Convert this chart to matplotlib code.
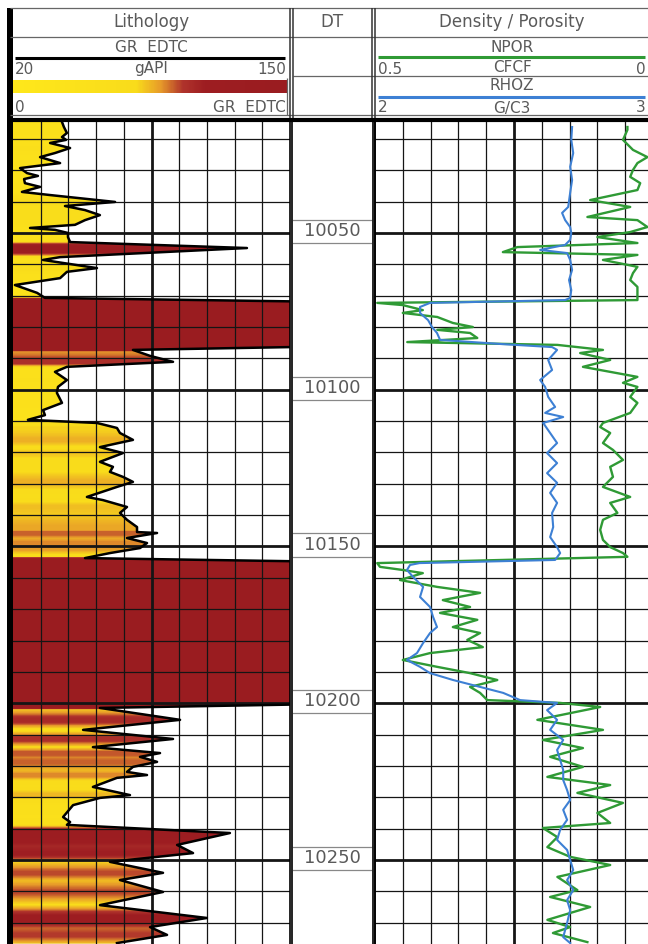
"""Composite well log: GR lithology track, depth track and density/porosity track."""

import matplotlib

matplotlib.use("Agg")

import matplotlib.pyplot as plt
import numpy as np
from matplotlib.colors import LinearSegmentedColormap, Normalize
from matplotlib.patches import Polygon, Rectangle
from numpy.lib.stride_tricks import sliding_window_view

W, H, DPI = 648, 944, 100

DEPTH_TOP = 10014.6
DEPTH_BOT = 10276.8
DEPTH_LABELS = [10050, 10100, 10150, 10200, 10250]

GR_MIN, GR_MAX = 20, 150
NPOR_LEFT, NPOR_RIGHT = 0.5, 0.0
RHOZ_LEFT, RHOZ_RIGHT = 2.0, 3.0

# Gamma ray (gAPI); 170 marks off-scale readings
GR_DEPTH = [
    10014.6, 10016.2, 10018.1, 10019.4, 10020.3, 10021.3, 10022.9, 10024.5,
    10025.8, 10027.7, 10029.3, 10030.9, 10031.8, 10032.8, 10034.1, 10035.3,
    10036.9, 10037.9, 10040.1, 10041.4, 10042.7, 10044.3, 10045.9, 10047.4,
    10048.4, 10049.0, 10050.0, 10051.3, 10052.9, 10054.8, 10057.7, 10058.6,
    10061.2, 10062.4, 10064.4, 10066.6, 10069.1, 10070.7, 10072.0, 10086.0,
    10086.4, 10087.3, 10089.2, 10091.1, 10092.7, 10094.3, 10096.9, 10099.1,
    10101.0, 10104.2, 10106.5, 10108.1, 10109.6, 10110.6, 10112.2, 10113.8,
    10116.0, 10118.3, 10120.2, 10123.0, 10124.6, 10126.2, 10127.8, 10129.4,
    10131.0, 10134.2, 10135.2, 10137.4, 10139.3, 10141.5, 10143.8, 10145.4,
    10145.7, 10147.3, 10148.9, 10150.5, 10152.1, 10153.7, 10154.9, 10200.2,
    10201.5, 10205.3, 10208.5, 10211.4, 10214.0, 10215.9, 10217.1, 10218.7,
    10220.3, 10221.9, 10222.9, 10223.8, 10226.7, 10229.3, 10230.2, 10232.5,
    10236.3, 10237.9, 10238.8, 10241.4, 10245.2, 10247.8, 10250.6, 10254.1,
    10256.4, 10260.2, 10264.4, 10268.5, 10271.4, 10273.9, 10276.5,
]
GR_API = [
    43.0, 43.9, 45.3, 43.0, 44.9, 37.4, 46.8, 39.7,
    32.7, 42.1, 23.3, 26.6, 31.7, 25.2, 25.6, 32.7,
    24.2, 37.4, 67.9, 44.4, 53.8, 60.8, 53.8, 49.1,
    28.0, 39.7, 45.8, 45.8, 46.8, 129.8, 42.1, 34.1,
    59.4, 45.3, 42.1, 20.9, 31.3, 35.0, 170.0, 170.0,
    150.0, 76.3, 84.3, 95.1, 45.3, 39.7, 45.3, 41.1,
    40.6, 43.0, 34.1, 35.0, 27.0, 59.4, 68.8, 70.2,
    76.3, 60.8, 71.6, 60.8, 66.9, 65.5, 71.6, 76.3,
    68.8, 54.7, 62.2, 73.5, 70.2, 73.5, 78.2, 78.2,
    87.6, 73.5, 82.9, 79.6, 65.5, 53.8, 170.0, 170.0,
    60.8, 98.4, 52.9, 95.1, 57.5, 89.0, 79.6, 87.6,
    76.3, 73.5, 82.9, 68.8, 57.5, 74.9, 60.8, 48.2,
    43.5, 46.8, 45.3, 121.8, 97.0, 104.5, 65.5, 90.4,
    70.2, 90.4, 60.8, 111.0, 84.3, 92.3, 68.8,
]

# Neutron porosity (CFCF)
NPOR_DEPTH = [
    10016.2, 10017.1, 10020.3, 10023.5, 10025.8, 10027.7, 10029.9, 10032.1,
    10034.1, 10036.3, 10039.5, 10041.7, 10044.9, 10045.9, 10048.1, 10049.7,
    10051.3, 10053.2, 10054.5, 10056.1, 10057.0, 10058.6, 10060.8, 10062.8,
    10065.0, 10067.2, 10069.1, 10071.4, 10072.3, 10073.0, 10074.6, 10075.5,
    10076.8, 10078.7, 10080.0, 10080.9, 10081.9, 10083.5, 10084.8, 10085.7,
    10087.3, 10088.3, 10090.5, 10092.7, 10095.9, 10097.8, 10099.1, 10102.3,
    10104.2, 10107.4, 10110.6, 10111.9, 10113.8, 10117.0, 10119.2, 10122.4,
    10124.6, 10127.8, 10131.0, 10134.2, 10136.1, 10139.3, 10141.5, 10144.7,
    10147.9, 10150.2, 10152.1, 10153.3, 10155.3, 10156.5, 10157.5, 10158.5,
    10160.7, 10162.9, 10164.8, 10167.1, 10169.3, 10171.2, 10173.4, 10175.7,
    10177.6, 10179.8, 10182.1, 10184.0, 10186.2, 10188.4, 10190.4, 10192.6,
    10194.8, 10196.7, 10199.0, 10199.9, 10201.2, 10205.3, 10208.5, 10211.7,
    10214.3, 10217.1, 10220.3, 10223.5, 10226.1, 10228.6, 10231.8, 10235.0,
    10238.2, 10239.8, 10242.7, 10245.9, 10249.0, 10251.6, 10255.4, 10259.6,
    10261.8, 10265.0, 10269.1, 10271.4, 10273.3, 10276.2,
]
NPOR_VAL = [
    0.046, 0.046, 0.054, 0.036, 0.010, 0.028, 0.036, 0.041,
    0.023, 0.028, 0.113, 0.041, 0.118, 0.028, 0.010, 0.041,
    0.100, 0.028, 0.244, 0.270, 0.028, 0.090, 0.028, 0.036,
    0.041, 0.028, 0.028, 0.028, 0.496, 0.450, 0.414, 0.450,
    0.388, 0.360, 0.324, 0.388, 0.329, 0.316, 0.442, 0.172,
    0.090, 0.131, 0.077, 0.126, 0.028, 0.054, 0.028, 0.041,
    0.028, 0.041, 0.090, 0.095, 0.077, 0.090, 0.072, 0.054,
    0.077, 0.072, 0.090, 0.041, 0.077, 0.064, 0.090, 0.095,
    0.090, 0.077, 0.054, 0.046, 0.496, 0.491, 0.450, 0.414,
    0.455, 0.388, 0.311, 0.378, 0.329, 0.383, 0.316, 0.360,
    0.311, 0.334, 0.306, 0.401, 0.450, 0.388, 0.329, 0.280,
    0.329, 0.311, 0.298, 0.167, 0.095, 0.208, 0.090, 0.198,
    0.126, 0.185, 0.126, 0.190, 0.077, 0.136, 0.054, 0.100,
    0.077, 0.198, 0.172, 0.190, 0.149, 0.077, 0.172, 0.136,
    0.185, 0.113, 0.190, 0.149, 0.180, 0.118,
]

# Bulk density (G/C3)
RHOZ_DEPTH = [
    10016.2, 10020.3, 10024.5, 10028.9, 10033.1, 10037.2, 10041.7, 10043.6,
    10045.9, 10048.1, 10050.0, 10052.2, 10053.8, 10055.4, 10056.4, 10058.6,
    10061.8, 10065.0, 10068.2, 10070.7, 10071.4, 10072.3, 10073.6, 10075.5,
    10077.8, 10080.0, 10081.9, 10084.1, 10085.4, 10086.4, 10087.3, 10090.5,
    10093.7, 10096.9, 10099.1, 10102.3, 10105.5, 10107.4, 10108.7, 10110.6,
    10113.8, 10117.0, 10120.2, 10123.4, 10126.6, 10129.7, 10132.9, 10136.1,
    10139.3, 10143.8, 10147.0, 10150.2, 10152.1, 10154.3, 10155.3, 10155.9,
    10157.5, 10159.7, 10162.9, 10166.1, 10169.3, 10172.5, 10175.7, 10177.6,
    10180.8, 10184.0, 10186.2, 10188.4, 10190.4, 10192.6, 10194.8, 10196.7,
    10199.0, 10199.9, 10202.2, 10205.3, 10208.5, 10211.7, 10214.9, 10218.1,
    10221.3, 10224.5, 10227.7, 10230.9, 10234.0, 10237.2, 10240.4, 10243.6,
    10246.8, 10250.0, 10253.2, 10256.4, 10259.6, 10262.8, 10266.0, 10270.1,
    10274.6, 10276.5,
]
RHOZ_VAL = [
    2.709, 2.706, 2.713, 2.702, 2.709, 2.702, 2.695, 2.673,
    2.684, 2.702, 2.706, 2.702, 2.684, 2.594, 2.691, 2.702,
    2.709, 2.698, 2.706, 2.702, 2.684, 2.198, 2.162, 2.162,
    2.191, 2.205, 2.223, 2.234, 2.450, 2.637, 2.655, 2.623,
    2.637, 2.594, 2.612, 2.623, 2.648, 2.612, 2.677, 2.605,
    2.630, 2.655, 2.619, 2.655, 2.619, 2.655, 2.630, 2.655,
    2.637, 2.641, 2.630, 2.655, 2.666, 2.648, 2.160, 2.126,
    2.115, 2.137, 2.173, 2.162, 2.198, 2.209, 2.223, 2.198,
    2.173, 2.151, 2.115, 2.162, 2.198, 2.281, 2.378, 2.461,
    2.522, 2.655, 2.619, 2.655, 2.630, 2.677, 2.655, 2.666,
    2.677, 2.677, 2.691, 2.702, 2.677, 2.691, 2.666, 2.655,
    2.691, 2.702, 2.713, 2.691, 2.713, 2.691, 2.702, 2.691,
    2.677, 2.702,
]

TEXT = "#5a5a5a"
GRID = "#151515"
NPOR_COLOR = "#2f9a35"
RHOZ_COLOR = "#3d80d4"

GR_CMAP = LinearSegmentedColormap.from_list(
    "gr_fill",
    [(0.0, "#ffe81c"), (0.45, "#f9dc1b"), (0.54, "#e79a2a"),
     (0.62, "#b0342c"), (0.70, "#9e1e22"), (1.0, "#9a1c20")],
)
GR_NORM = Normalize(0, 150)

# track geometry in pixels
LITH_X = (13, 290)
DT_X = (292, 373)
DENS_X = (375, 653)
DATA_Y = (122, 944)


def px_rect(x0, x1, y0, y1):
    return [x0 / W, 1 - y1 / H, (x1 - x0) / W, (y1 - y0) / H]


def depth_grid(ax):
    for d in np.arange(10020, DEPTH_BOT, 10):
        thick = d % 50 == 0
        ax.axhline(d, color=GRID, lw=2.0 if thick else 0.9, zorder=2)


def value_grid(ax, left, right):
    xs = np.linspace(left, right, 11)[1:-1]
    for i, x in enumerate(xs, start=1):
        ax.axvline(x, color=GRID, lw=2.0 if i == 5 else 0.9, zorder=2)


def bare(ax):
    ax.set_xticks([])
    ax.set_yticks([])
    for s in ax.spines.values():
        s.set_visible(False)


fig = plt.figure(figsize=(W / DPI, H / DPI), dpi=DPI)

# --- lithology / gamma ray track ---
ax_gr = fig.add_axes(px_rect(*LITH_X, *DATA_Y))
bare(ax_gr)
ax_gr.spines["right"].set_visible(True)
ax_gr.spines["right"].set_linewidth(1.2)

# colour each depth row by the local GR peak, then clip to the area under the curve
d_fine = np.arange(DEPTH_TOP, DEPTH_BOT, 0.1)
gr_fine = np.interp(d_fine, GR_DEPTH, GR_API)
half = 6
gr_color = sliding_window_view(np.pad(gr_fine, half, mode="edge"), 2 * half + 1).max(axis=1)
rgba = GR_CMAP(GR_NORM(gr_color))[:, None, :]
im = ax_gr.imshow(rgba, extent=[GR_MIN, GR_MAX, DEPTH_BOT, DEPTH_TOP],
                  aspect="auto", interpolation="nearest", zorder=1)
gr_edge = np.clip(gr_fine, GR_MIN, GR_MAX)
verts = [(GR_MIN, d_fine[0])] + list(zip(gr_edge, d_fine)) + [(GR_MIN, d_fine[-1])]
clip = Polygon(verts, closed=True, transform=ax_gr.transData,
               facecolor="none", edgecolor="none")
ax_gr.add_patch(clip)
im.set_clip_path(clip)

value_grid(ax_gr, GR_MIN, GR_MAX)
depth_grid(ax_gr)
ax_gr.plot(GR_API, GR_DEPTH, color="black", lw=1.8, zorder=3)
ax_gr.set_xlim(GR_MIN, GR_MAX)
ax_gr.set_ylim(DEPTH_BOT, DEPTH_TOP)

# --- depth track ---
ax_dt = fig.add_axes(px_rect(*DT_X, *DATA_Y))
bare(ax_dt)
for side in ("left", "right"):
    ax_dt.spines[side].set_visible(True)
    ax_dt.spines[side].set_linewidth(1.4)
    ax_dt.spines[side].set_color("#222222")
ax_dt.set_xlim(0, 1)
ax_dt.set_ylim(DEPTH_BOT, DEPTH_TOP)
for d in DEPTH_LABELS:
    ax_dt.hlines([d - 4.2, d + 3.2], 0, 1, color="#888888", lw=0.9)
    ax_dt.text(0.5, d - 0.6, str(d), ha="center", va="center",
               fontsize=13, color=TEXT)

# --- density / porosity track ---
ax_np = fig.add_axes(px_rect(*DENS_X, *DATA_Y))
bare(ax_np)
ax_np.spines["left"].set_visible(True)
ax_np.spines["left"].set_linewidth(1.4)
value_grid(ax_np, NPOR_LEFT, NPOR_RIGHT)
depth_grid(ax_np)
ax_np.plot(NPOR_VAL, NPOR_DEPTH, color=NPOR_COLOR, lw=1.7, zorder=3)
ax_np.set_xlim(NPOR_LEFT, NPOR_RIGHT)
ax_np.set_ylim(DEPTH_BOT, DEPTH_TOP)

ax_rho = ax_np.twiny()
bare(ax_rho)
ax_rho.plot(RHOZ_VAL, RHOZ_DEPTH, color=RHOZ_COLOR, lw=1.5, zorder=4)
ax_rho.set_xlim(RHOZ_LEFT, RHOZ_RIGHT)
ax_rho.set_ylim(DEPTH_BOT, DEPTH_TOP)

# --- header panel, drawn in pixel coordinates ---
hd = fig.add_axes([0, 0, 1, 1], zorder=10)
hd.set_axis_off()
hd.patch.set_visible(False)

thin = dict(color="#666666", lw=0.9)
hd.hlines([8, 37], 10, W, **thin)
hd.hlines(76, 293, W, **thin)
hd.hlines(115, 10, W, **thin)
hd.vlines([290, 293, 372, 375], 8, 118, color="#333333", lw=1.1)
hd.vlines(287, 78, 115, **thin)
hd.hlines(120, 8, W, color="black", lw=3.0)
hd.add_patch(Rectangle((7, 8), 6, H - 8, color="black", lw=0))

# GR scale line and colour bar
hd.hlines(58, 15, 285, color="black", lw=2.2)
bar = GR_CMAP(GR_NORM(np.linspace(0, 150, 300)))[None, :, :]
hd.imshow(bar, extent=[13, 287, 93, 80], aspect="auto", interpolation="bilinear")

hd.hlines(57, 378, 645, color=NPOR_COLOR, lw=2.2)
hd.hlines(97, 378, 645, color=RHOZ_COLOR, lw=2.2)

lith_c = sum(LITH_X) / 2
dens_c = 512
title = dict(fontsize=12, color=TEXT, va="center")
row = dict(fontsize=11, color=TEXT, va="center")
hd.text(lith_c, 22, "Lithology", ha="center", **title)
hd.text(332, 22, "DT", ha="center", **title)
hd.text(dens_c, 22, "Density / Porosity", ha="center", **title)

hd.text(lith_c, 47, "GR  EDTC", ha="center", **row)
hd.text(15, 69, "20", ha="left", **row)
hd.text(lith_c, 69, "gAPI", ha="center", **row)
hd.text(286, 69, "150", ha="right", **row)
hd.text(15, 107, "0", ha="left", **row)
hd.text(286, 107, "GR  EDTC", ha="right", **row)

hd.text(dens_c, 47, "NPOR", ha="center", **row)
hd.text(378, 69, "0.5", ha="left", **row)
hd.text(dens_c, 68, "CFCF", ha="center", **row)
hd.text(646, 69, "0", ha="right", **row)
hd.text(dens_c, 86, "RHOZ", ha="center", **row)
hd.text(378, 108, "2", ha="left", **row)
hd.text(dens_c, 108, "G/C3", ha="center", **row)
hd.text(646, 108, "3", ha="right", **row)

hd.set_xlim(0, W)
hd.set_ylim(H, 0)

fig.savefig("out.png", dpi=DPI)
plt.close(fig)
